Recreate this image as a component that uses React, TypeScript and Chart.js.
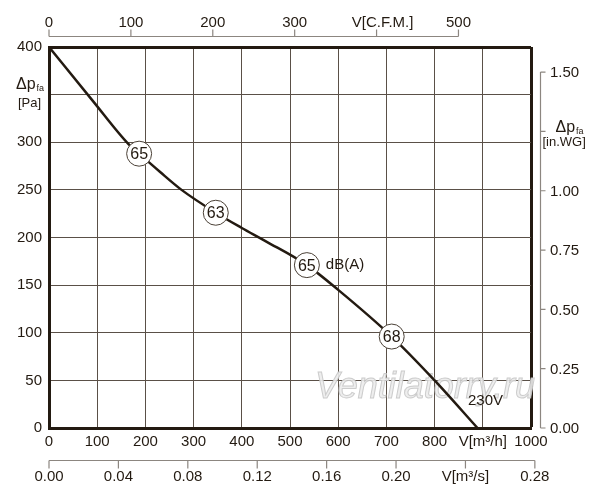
import React, { useEffect, useRef } from "react";
import { Chart, registerables } from "chart.js";

Chart.register(...registerables);

// fan curve (V in m³/h, Δp in Pa)
const flowM3h = [0, 90, 165, 187, 230, 275, 346, 400, 450, 535, 600, 711, 800, 889];
const pressurePa = [400, 344, 298, 288, 269, 250, 226, 210, 196, 171, 145, 96, 50, 0];

// noise markers on the curve, dB(A)
const markerFlow = [187, 346, 535, 711];
const markerPressure = [288, 226, 171, 96];
const markerLabels = ["65", "63", "65", "68"];

// main axes
const flowTicks = [0, 100, 200, 300, 400, 500, 600, 700, 800, 900, 1000];
const flowTickLabels = ["0", "100", "200", "300", "400", "500", "600", "700", "800", "V[m³/h]", "1000"];
const pressureTicks = [0, 50, 100, 150, 200, 250, 300, 350, 400];
const pressureTickLabels = ["0", "50", "100", "150", "200", "250", "300", "", "400"];

// secondary axes
const cfmTicks = [0, 100, 200, 300, 400, 500];
const cfmTickLabels = ["0", "100", "200", "300", "V[C.F.M.]", "500"];
const m3sTicks = [0, 0.04, 0.08, 0.12, 0.16, 0.2, 0.24, 0.28];
const m3sTickLabels = ["0.00", "0.04", "0.08", "0.12", "0.16", "0.20", "V[m³/s]", "0.28"];
const inwgTicks = [0, 0.25, 0.5, 0.75, 1.0, 1.25, 1.5];
const inwgTickLabels = ["0.00", "0.25", "0.50", "0.75", "1.00", "", "1.50"];

const M3H_PER_CFM = 1.699;
const PA_PER_INWG = 249.09;

const FONT = "'Liberation Sans', Arial, sans-serif";
const INK = "#231a11";
const GRID = "#5a5047";
const AXIS_GREY = "#8c8680";

const overlayPlugin = {
  id: "fanOverlay",
  beforeDatasetsDraw(chart: any) {
    const ctx = chart.ctx;
    const area = chart.chartArea;
    ctx.save();
    ctx.font = `italic 36px ${FONT}`;
    ctx.textAlign = "center";
    ctx.textBaseline = "middle";
    ctx.lineWidth = 1;
    ctx.fillStyle = "rgba(236,236,236,0.9)";
    ctx.strokeStyle = "rgba(200,200,200,0.9)";
    ctx.fillText("Ventilatorry.ru", area.right - 106, area.bottom - 40, 222);
    ctx.strokeText("Ventilatorry.ru", area.right - 106, area.bottom - 40, 222);
    ctx.restore();
  },
  afterDatasetsDraw(chart: any) {
    const ctx = chart.ctx;
    ctx.save();
    ctx.fillStyle = INK;
    ctx.textBaseline = "middle";

    const markers = chart.getDatasetMeta(1).data;
    ctx.font = `16px ${FONT}`;
    ctx.textAlign = "center";
    markers.forEach((pt: any, i: number) => {
      ctx.fillText(markerLabels[i], pt.x, pt.y + 1);
    });

    ctx.font = `15px ${FONT}`;
    ctx.textAlign = "left";
    const third = markers[2];
    ctx.fillText("dB(A)", third.x + 19, third.y);

    const curve = chart.getDatasetMeta(0).data;
    const last = curve[curve.length - 1];
    ctx.textAlign = "center";
    ctx.fillText("230V", last.x + 8, last.y - 27);
    ctx.restore();
  },
  afterDraw(chart: any) {
    const ctx = chart.ctx;
    const area = chart.chartArea;
    const { y, xCfm, xM3s, yInwg } = chart.scales;
    ctx.save();
    ctx.strokeStyle = AXIS_GREY;
    ctx.lineWidth = 1.2;
    ctx.fillStyle = INK;
    ctx.font = `15px ${FONT}`;

    // top: C.F.M.
    const topLine = area.top - 10.5;
    ctx.beginPath();
    ctx.moveTo(xCfm.getPixelForValue(cfmTicks[0]), topLine);
    ctx.lineTo(xCfm.getPixelForValue(cfmTicks[cfmTicks.length - 1]), topLine);
    cfmTicks.forEach((v) => {
      const px = xCfm.getPixelForValue(v);
      ctx.moveTo(px, topLine);
      ctx.lineTo(px, topLine - 7);
    });
    ctx.stroke();
    ctx.textAlign = "center";
    ctx.textBaseline = "middle";
    cfmTicks.forEach((v, i) => {
      const shift = i === 4 ? 6 : 0;
      ctx.fillText(cfmTickLabels[i], xCfm.getPixelForValue(v) + shift, topLine - 14);
    });

    // bottom: m³/s
    const botLine = area.bottom + 32.5;
    ctx.beginPath();
    ctx.moveTo(xM3s.getPixelForValue(m3sTicks[0]), botLine);
    ctx.lineTo(xM3s.getPixelForValue(m3sTicks[m3sTicks.length - 1]), botLine);
    m3sTicks.forEach((v) => {
      const px = xM3s.getPixelForValue(v);
      ctx.moveTo(px, botLine);
      ctx.lineTo(px, botLine + 8);
    });
    ctx.stroke();
    m3sTicks.forEach((v, i) => {
      ctx.fillText(m3sTickLabels[i], xM3s.getPixelForValue(v), botLine + 16.5);
    });

    // right: in.WG
    const rightLine = area.right + 9.5;
    ctx.beginPath();
    ctx.moveTo(rightLine, yInwg.getPixelForValue(inwgTicks[0]));
    ctx.lineTo(rightLine, yInwg.getPixelForValue(inwgTicks[inwgTicks.length - 1]));
    inwgTicks.forEach((v) => {
      const py = yInwg.getPixelForValue(v);
      ctx.moveTo(rightLine, py);
      ctx.lineTo(rightLine + 5, py);
    });
    ctx.stroke();
    ctx.textAlign = "left";
    inwgTicks.forEach((v, i) => {
      if (inwgTickLabels[i]) ctx.fillText(inwgTickLabels[i], rightLine + 9.5, yInwg.getPixelForValue(v) + 1);
    });

    // axis titles Δp_fa
    const title = (left: number, mid: number, unit: string, unitLeft: number, unitMid: number) => {
      ctx.textAlign = "left";
      ctx.font = `16px ${FONT}`;
      ctx.fillText("Δp", left, mid);
      const w = ctx.measureText("Δp").width;
      ctx.font = `9px ${FONT}`;
      ctx.fillText("fa", left + w + 1, mid + 4);
      ctx.font = `13px ${FONT}`;
      ctx.fillText(unit, unitLeft, unitMid);
    };
    const pa = y.getPixelForValue(350);
    title(16, pa - 10, "[Pa]", 18, pa + 9);
    const wg = yInwg.getPixelForValue(1.25);
    title(rightLine + 15, wg - 4, "[in.WG]", rightLine + 2, wg + 11);

    ctx.restore();
  },
};

const App: React.FC = () => {
  const chartRef = useRef<HTMLCanvasElement | null>(null);

  useEffect(() => {
    if (!chartRef.current) return;

    const fanChart = new Chart(chartRef.current, {
      type: "line",
      data: {
        datasets: [
          {
            label: "230V",
            data: flowM3h.map((v, i) => ({ x: v, y: pressurePa[i] })),
            borderColor: INK,
            borderWidth: 2.5,
            pointRadius: 0,
            cubicInterpolationMode: "monotone",
            fill: false,
            order: 2,
          },
          {
            label: "dB(A)",
            data: markerFlow.map((v, i) => ({ x: v, y: markerPressure[i] })),
            showLine: false,
            pointRadius: 12.5,
            pointBackgroundColor: "#ffffff",
            pointBorderColor: "#4a4036",
            pointBorderWidth: 1,
            order: 1,
          },
        ],
      },
      options: {
        responsive: true,
        maintainAspectRatio: false,
        animation: false,
        layout: { padding: { top: 47, right: 69, left: 0, bottom: 0 } },
        plugins: {
          legend: { display: false },
          tooltip: { enabled: false },
        },
        events: [],
        scales: {
          x: {
            type: "linear",
            position: "bottom",
            min: 0,
            max: 1000,
            afterBuildTicks: (s: any) => {
              s.ticks = flowTicks.map((v) => ({ value: v }));
            },
            afterFit: (s: any) => {
              s.height = 72;
            },
            ticks: {
              autoSkip: false,
              maxRotation: 0,
              padding: 5,
              color: INK,
              font: { size: 15, family: FONT },
              callback: (_v: any, i: number) => flowTickLabels[i],
            },
            grid: {
              drawTicks: false,
              color: (c: any) => (c.tick && c.tick.value === 1000 ? INK : GRID),
              lineWidth: (c: any) => (c.tick && c.tick.value === 1000 ? 3 : 1),
            },
            border: { display: true, color: INK, width: 3 },
          },
          y: {
            type: "linear",
            position: "left",
            min: 0,
            max: 400,
            afterBuildTicks: (s: any) => {
              s.ticks = pressureTicks.map((v) => ({ value: v }));
            },
            afterFit: (s: any) => {
              s.width = 49;
            },
            ticks: {
              autoSkip: false,
              padding: 7,
              color: INK,
              font: { size: 15, family: FONT },
              callback: (_v: any, i: number) => pressureTickLabels[i],
            },
            grid: {
              drawTicks: false,
              color: (c: any) => (c.tick && c.tick.value === 400 ? INK : GRID),
              lineWidth: (c: any) => (c.tick && c.tick.value === 400 ? 3 : 1),
            },
            border: { display: true, color: INK, width: 3 },
          },
          xCfm: {
            type: "linear",
            axis: "x",
            position: "top",
            display: false,
            bounds: "data",
            min: 0,
            max: 1000 / M3H_PER_CFM,
          },
          xM3s: {
            type: "linear",
            axis: "x",
            position: "bottom",
            display: false,
            bounds: "data",
            min: 0,
            max: 1000 / 3600,
          },
          yInwg: {
            type: "linear",
            axis: "y",
            position: "right",
            display: false,
            bounds: "data",
            min: 0,
            max: 400 / PA_PER_INWG,
          },
        },
      } as any,
      plugins: [overlayPlugin],
    });

    return () => {
      fanChart.destroy();
    };
  }, []);

  return (
    <div style={{ position: "fixed", left: 0, top: 0, width: 600, height: 500, background: "#fff" }}>
      <canvas ref={chartRef} />
    </div>
  );
};

export default App;
